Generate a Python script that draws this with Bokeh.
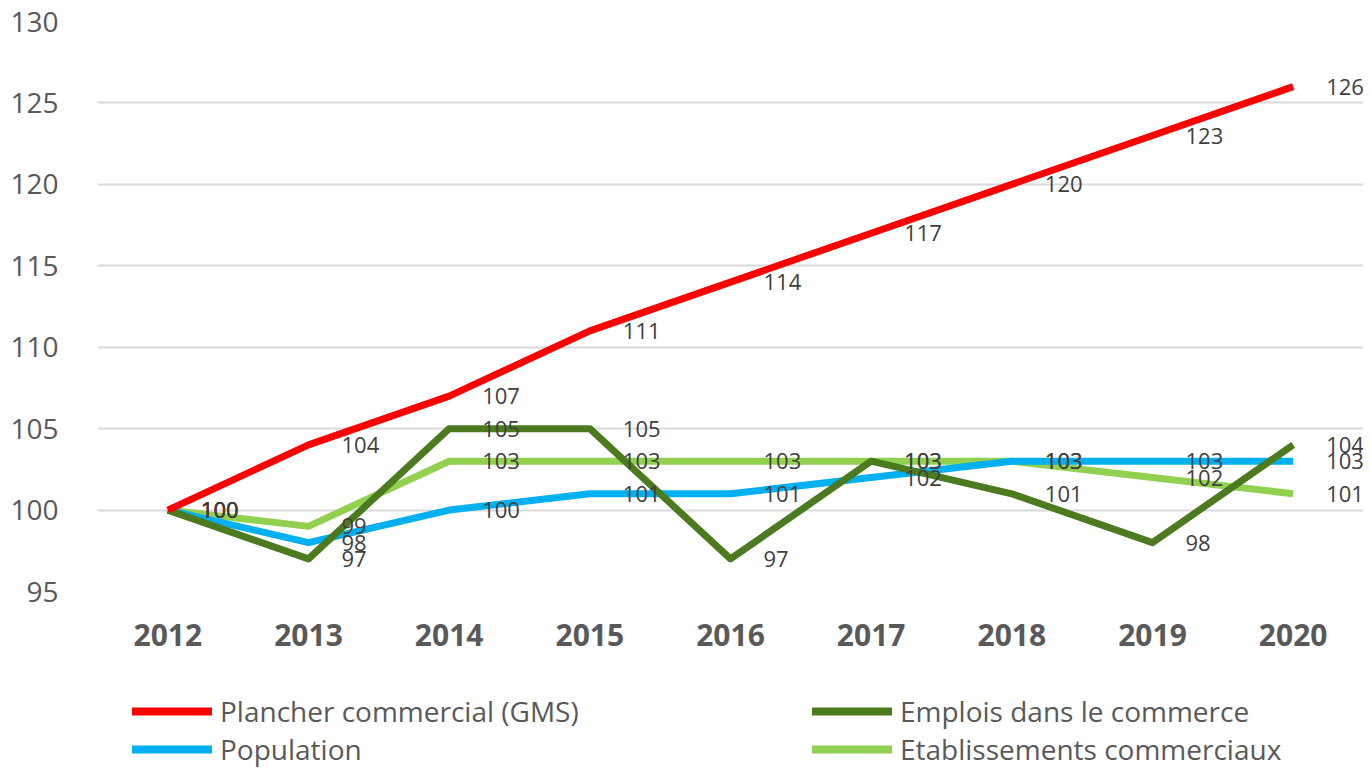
from bokeh.plotting import figure
from bokeh.layouts import column
from bokeh.models import ColumnDataSource, Legend, LegendItem, FixedTicker, Range1d, FactorRange
from bokeh.core.properties import value
from bokeh.embed import file_html
from bokeh.resources import INLINE

years = ["2012", "2013", "2014", "2015", "2016", "2017", "2018", "2019", "2020"]
plancher = [100, 104, 107, 111, 114, 117, 120, 123, 126]
emplois = [100, 97, 105, 105, 97, 103, 101, 98, 104]
population = [100, 98, 100, 101, 101, 102, 103, 103, 103]
etablissements = [100, 99, 103, 103, 103, 103, 103, 102, 101]

names = ["Plancher commercial (GMS)", "Emplois dans le commerce", "Population", "Etablissements commerciaux"]
colors = ["#FF0000", "#4B7A1F", "#00B0F0", "#92D050"]
series = [plancher, emplois, population, etablissements]

FONT = "Open Sans"

p = figure(width=1363, height=680, x_range=FactorRange(*years), y_range=Range1d(95, 130),
           output_backend="svg", toolbar_location=None,
           min_border_left=97, min_border_right=0, min_border_top=21, min_border_bottom=89)
p.outline_line_color = None
p.xgrid.grid_line_color = None
p.ygrid.grid_line_color = "#D9D9D9"
p.ygrid.grid_line_width = 2
p.yaxis.ticker = FixedTicker(ticks=[95, 100, 105, 110, 115, 120, 125, 130])
for ax in (p.xaxis, p.yaxis):
    ax.axis_line_color = None
    ax.major_tick_line_color = None
    ax.minor_tick_line_color = None
    ax.major_label_text_font = FONT
    ax.major_label_text_color = "#595959"
p.yaxis.major_label_text_font_size = "28px"
p.xaxis.major_label_text_font_size = "30px"
p.yaxis.major_label_standoff = 33
p.xaxis.major_label_standoff = 26
p.xaxis.major_label_text_font_style = "bold"

draw_order = [3, 2, 1, 0]
for i in draw_order:
    src = ColumnDataSource(dict(x=years, y=series[i], t=[str(v) for v in series[i]]))
    p.line("x", "y", source=src, line_color=colors[i], line_width=7, line_join="round")
for i in draw_order:
    src = ColumnDataSource(dict(x=years, y=series[i], t=[str(v) for v in series[i]]))
    p.text("x", "y", text="t", source=src, x_offset=33, text_baseline="middle", text_align="left",
           text_font=value(FONT), text_font_size="22px", text_color="#404040")

# legend strip (its frame is aligned with the chart's frame by the column layout)
q = figure(width=1363, height=88, x_range=Range1d(0, 1), y_range=Range1d(0, 1),
           x_axis_type=None, y_axis_type=None, output_backend="svg", toolbar_location=None,
           min_border_left=97, min_border_right=0, min_border_top=0, min_border_bottom=0)
q.outline_line_color = None
leg_r = {}
for i in range(4):
    leg_r[i] = q.line(x=[5, 6], y=[5, 6], line_color=colors[i], line_width=8, line_cap="round")

def make_legend(idx, x, y):
    items = [LegendItem(label=names[i], renderers=[leg_r[i]]) for i in idx]
    return Legend(items=items, orientation="vertical", location=(x, y),
                  label_text_font=FONT, label_text_font_size="28px", label_text_color="#595959",
                  label_text_line_height=0.95,
                  glyph_width=80, glyph_height=34, label_height=34,
                  label_standoff=8, spacing=0, padding=0, margin=0,
                  border_line_color=None, background_fill_alpha=0)

q.add_layout(make_legend([0, 2], 35, 0))
q.add_layout(make_legend([1, 3], 715, 0))

layout = column(p, q, spacing=0)
open("out.html", "w").write(file_html(layout, INLINE))
